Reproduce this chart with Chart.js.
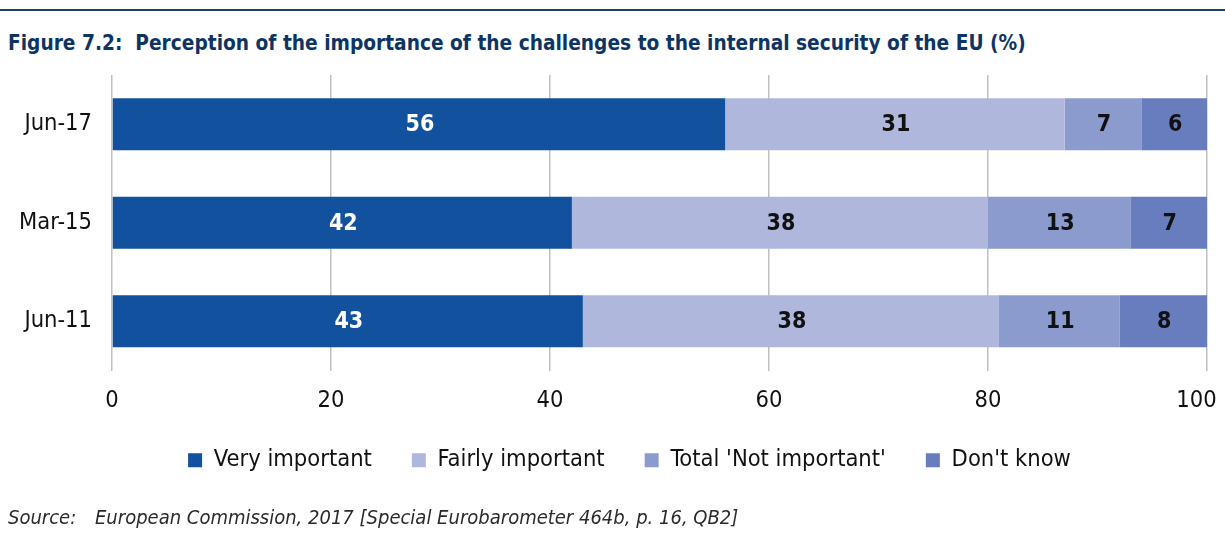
<!DOCTYPE html>
<html>
<head>
<meta charset="utf-8">
<script src="https://cdn.jsdelivr.net/npm/chart.js@4.4.1/dist/chart.umd.min.js"></script>
<style>
  html, body { margin: 0; padding: 0; background: #fff; width: 1225px; height: 533px; overflow: hidden; }
  #topline { position: absolute; left: 0; top: 9px; width: 1225px; height: 2px; background: #1c3f6e; }
  #title { position: absolute; left: 8px; top: 31px; font-family: "Liberation Sans Narrow", "DejaVu Sans Condensed", "Open Sans", sans-serif; font-weight: bold; font-size: 20.7px; color: #0e3466; white-space: nowrap; }
  #source { position: absolute; left: 8px; top: 505px; font-family: "Liberation Sans Narrow", "DejaVu Sans Condensed", "Open Sans", sans-serif; font-style: italic; font-size: 20px; color: #2b2b2b; white-space: nowrap; }
  #source span { position: absolute; left: 87px; }
  #wrap { position: absolute; left: 0; top: 0; width: 1225px; height: 533px; }
</style>
</head>
<body>
<div id="topline"></div>
<div id="title">Figure 7.2:&nbsp; Perception of the importance of the challenges to the internal security of the EU (%)</div>
<div id="wrap"><canvas id="c" width="1225" height="533"></canvas></div>
<div id="source">Source:<span>European Commission, 2017 [Special Eurobarometer 464b, p. 16, QB2]</span></div>
<script>
const categories = ["Jun-17", "Mar-15", "Jun-11"];
const seriesNames = ["Very important", "Fairly important", "Total 'Not important'", "Don't know"];
const veryImportant = [56, 42, 43];
const fairlyImportant = [31, 38, 38];
const notImportant = [7, 13, 11];
const dontKnow = [6, 7, 8];
const xTicks = [0, 20, 40, 60, 80, 100];

const FONT = '"Liberation Sans Narrow", "DejaVu Sans Condensed", "Open Sans", sans-serif';
const FS = 23.5;
const colors = ["#12519e", "#afb8dc", "#8c9bcd", "#687dbd"];
const labelColors = ["#ffffff", "#111111", "#111111", "#111111"];
const seriesData = [veryImportant, fairlyImportant, notImportant, dontKnow];

const barLabels = {
  id: 'barLabels',
  afterDatasetsDraw(chart) {
    const ctx = chart.ctx;
    ctx.save();
    ctx.font = 'bold 23px ' + FONT;
    ctx.textAlign = 'center';
    ctx.textBaseline = 'middle';
    chart.data.datasets.forEach((ds, i) => {
      const meta = chart.getDatasetMeta(i);
      meta.data.forEach((bar, j) => {
        const cx = (bar.x + bar.base) / 2;
        ctx.fillStyle = labelColors[i];
        ctx.fillText(String(ds.data[j]), cx + 1, bar.y + 1);
      });
    });
    ctx.restore();
  }
};

const legendShift = {
  id: 'legendShift',
  afterLayout(chart) {
    if (chart.legend) { chart.legend.left += 16; chart.legend.right += 16; }
  }
};

new Chart(document.getElementById('c'), {
  type: 'bar',
  data: {
    labels: categories,
    datasets: seriesNames.map((n, i) => ({
      label: n,
      data: seriesData[i],
      backgroundColor: colors[i],
      borderWidth: 0,
      barPercentage: 0.53,
      categoryPercentage: 1.0
    }))
  },
  options: {
    indexAxis: 'y',
    responsive: false,
    animation: false,
    devicePixelRatio: 1,
    layout: { padding: { top: 75, right: 18, bottom: 51, left: 20 } },
    scales: {
      x: {
        stacked: true,
        min: 0, max: 100,
        afterBuildTicks(scale) { scale.ticks = xTicks.map(v => ({ value: v })); },
        grid: { color: '#c0c0c0', lineWidth: 1.5, drawTicks: false },
        border: { display: false },
        ticks: {
          padding: 16, color: '#111', font: { family: FONT, size: FS },
          maxRotation: 0,
          callback(v) { return v === 100 ? '100\u2002\u2002' : String(v); }
        },
        afterFit(scale) { scale.height = 38; scale.paddingRight = 0; scale.paddingLeft = 0; }
      },
      y: {
        stacked: true,
        grid: { display: false, drawTicks: false },
        border: { display: false },
        ticks: { padding: 20, color: '#111', font: { family: FONT, size: FS } },
        afterFit(scale) { scale.width = 92; scale.paddingTop = 0; scale.paddingBottom = 0; }
      }
    },
    plugins: {
      legend: {
        position: 'bottom',
        labels: {
          boxWidth: 14, boxHeight: 14, padding: 40,
          color: '#111',
          font: { family: FONT, size: FS }
        }
      },
      tooltip: { enabled: false },
      title: { display: false }
    }
  },
  plugins: [barLabels, legendShift]
});
</script>
</body>
</html>
